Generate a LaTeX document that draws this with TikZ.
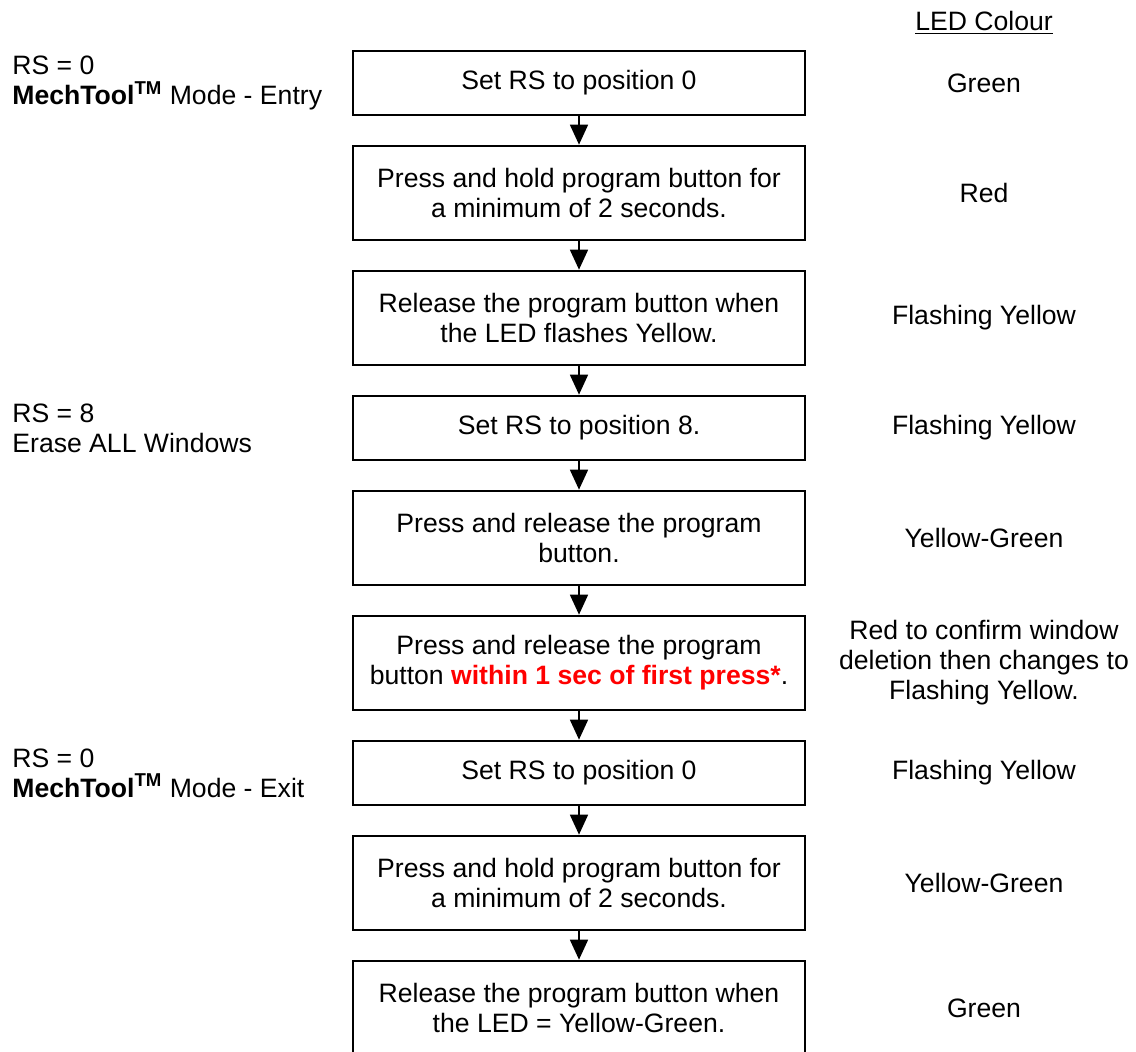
\documentclass[tikz,border=0pt]{standalone}
\usepackage{fontspec}
\setmainfont{Liberation Sans}
\usepackage{xcolor}
\usetikzlibrary{positioning,arrows.meta}

\begin{document}
\begin{tikzpicture}[
x=0.5pt, y=-0.5pt,
node distance=14.15pt,
font=\fontsize{13.3}{15}\selectfont,
box/.style={draw, line width=1.35pt, minimum width=226pt, minimum height=32pt, align=center, inner sep=2pt},
tallbox/.style={box, minimum height=47pt},
led/.style={align=center},
note/.style={align=left, anchor=west, inner sep=0pt},
arrow/.style={-{Triangle[length=10pt, width=9pt]}, line width=0.85pt}
]
\useasboundingbox (0,0) rectangle (1136,1051);
% steps
\node[box] (set0) at (579,83) {Set RS to position 0};
\node[tallbox, below=of set0] (hold) {Press and hold program button for\\a minimum of 2 seconds.};
\node[tallbox, below=of hold] (release) {Release the program button when\\the LED flashes Yellow.};
\node[box, below=of release] (set8) {Set RS to position 8.};
\node[tallbox, below=of set8] (press) {Press and release the program\\button.};
\node[tallbox, below=of press] (confirm) {Press and release the program\\button \textcolor{red}{\textbf{within 1 sec of first press*}}.};
\node[box, below=of confirm] (reset0) {Set RS to position 0};
\node[tallbox, below=of reset0] (holdexit) {Press and hold program button for\\a minimum of 2 seconds.};
\node[tallbox, below=of holdexit] (releaseexit) {Release the program button when\\the LED = Yellow-Green.};
\draw[arrow] (set0) -- (hold);
\draw[arrow] (hold) -- (release);
\draw[arrow] (release) -- (set8);
\draw[arrow] (set8) -- (press);
\draw[arrow] (press) -- (confirm);
\draw[arrow] (confirm) -- (reset0);
\draw[arrow] (reset0) -- (holdexit);
\draw[arrow] (holdexit) -- (releaseexit);
% mode notes
\node[note] (entry) at (12,0 |- set0) {RS = 0\\\textbf{MechTool\textsuperscript{TM}} Mode - Entry};
\node[note] (erase) at (12,0 |- set8) {RS = 8\\Erase ALL Windows};
\node[note] (exit) at (12,0 |- reset0) {RS = 0\\\textbf{MechTool\textsuperscript{TM}} Mode - Exit};
% LED colours
\node[led] (ledhead) at (984,23) {\underline{LED Colour}};
\node[led] (led1) at (984,0 |- set0) {Green};
\node[led] (led2) at (984,0 |- hold) {Red};
\node[led] (led3) at (984,0 |- release) {Flashing Yellow};
\node[led] (led4) at (984,0 |- set8) {Flashing Yellow};
\node[led] (led5) at (984,0 |- press) {Yellow-Green};
\node[led] (led6) at (984,0 |- confirm) {Red to confirm window\\deletion then changes to\\Flashing Yellow.};
\node[led] (led7) at (984,0 |- reset0) {Flashing Yellow};
\node[led] (led8) at (984,0 |- holdexit) {Yellow-Green};
\node[led] (led9) at (984,0 |- releaseexit) {Green};
\end{tikzpicture}
\end{document}
